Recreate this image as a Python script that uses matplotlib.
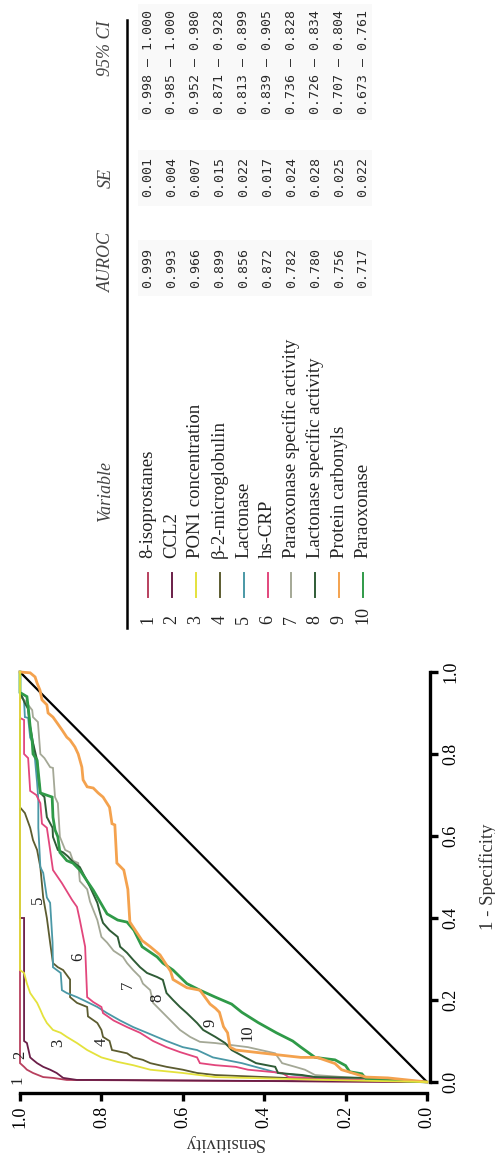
import matplotlib
matplotlib.use("Agg")
import matplotlib.pyplot as plt
from matplotlib.lines import Line2D
from matplotlib.patches import Rectangle

# ROC curves as (sensitivity, 1 - specificity) points, from (0, 0) to (1, 1)
roc_isoprostanes = [(0, 0), (0.885, 0.005), (0.919, 0.01), (0.943, 0.012), (0.968, 0.022),
                    (0.983, 0.03), (0.99, 0.037), (1.0, 0.046), (1.0, 1.0)]
roc_ccl2 = [(0, 0), (0.80, 0.005), (0.86, 0.005), (0.894, 0.01), (0.91, 0.022), (0.926, 0.03),
            (0.943, 0.037), (0.958, 0.046), (0.968, 0.054), (0.975, 0.06), (0.983, 0.095),
            (0.99, 0.10), (0.99, 0.40), (1.0, 0.40), (1.0, 1.0)]
roc_pon1 = [(0, 0), (0.25, 0.005), (0.52, 0.012), (0.60, 0.022), (0.68, 0.03), (0.722, 0.041),
            (0.76, 0.049), (0.80, 0.06), (0.835, 0.078), (0.86, 0.095), (0.885, 0.11), (0.90, 0.12),
            (0.919, 0.127), (0.934, 0.144), (0.943, 0.16), (0.95, 0.176), (0.958, 0.193),
            (0.968, 0.207), (0.975, 0.217), (0.983, 0.24), (0.99, 0.266), (1.0, 0.273), (1.0, 1.0)]
roc_b2m = [(0, 0), (0.30, 0.008), (0.52, 0.017), (0.565, 0.022), (0.60, 0.03), (0.64, 0.037),
           (0.68, 0.046), (0.698, 0.054), (0.722, 0.06), (0.737, 0.07), (0.774, 0.078), (0.78, 0.10),
           (0.796, 0.11), (0.80, 0.127), (0.81, 0.144), (0.833, 0.16), (0.835, 0.183), (0.86, 0.193),
           (0.877, 0.207), (0.877, 0.25), (0.894, 0.273), (0.907, 0.28), (0.919, 0.29), (0.926, 0.34),
           (0.934, 0.40), (0.943, 0.45), (0.95, 0.524), (0.958, 0.566), (0.968, 0.59), (0.975, 0.62),
           (0.988, 0.656), (1.0, 0.67), (1.0, 1.0)]
roc_lactonase = [(0, 0), (0.15, 0.005), (0.275, 0.012), (0.366, 0.022), (0.455, 0.046), (0.526, 0.06),
                 (0.565, 0.078), (0.60, 0.085), (0.64, 0.10), (0.688, 0.12), (0.722, 0.134), (0.754, 0.15),
                 (0.786, 0.168), (0.81, 0.183), (0.845, 0.20), (0.86, 0.207), (0.885, 0.217), (0.897, 0.224),
                 (0.90, 0.266), (0.919, 0.28), (0.92, 0.34), (0.926, 0.437), (0.934, 0.45), (0.943, 0.51),
                 (0.95, 0.524), (0.955, 0.62), (0.955, 0.688), (0.958, 0.73), (0.963, 0.785), (0.968, 0.827),
                 (0.975, 0.84), (0.98, 0.888), (0.988, 0.89), (0.99, 0.93), (1.0, 0.95), (1.0, 1.0)]
roc_hscrp = [(0, 0), (0.275, 0.01), (0.34, 0.012), (0.356, 0.022), (0.44, 0.03), (0.47, 0.037),
             (0.52, 0.041), (0.558, 0.046), (0.565, 0.06), (0.607, 0.073), (0.64, 0.085), (0.673, 0.10),
             (0.705, 0.12), (0.737, 0.134), (0.77, 0.15), (0.796, 0.168), (0.80, 0.183), (0.82, 0.195),
             (0.835, 0.207), (0.84, 0.33), (0.853, 0.395), (0.86, 0.427), (0.872, 0.444), (0.897, 0.485),
             (0.919, 0.517), (0.926, 0.566), (0.934, 0.62), (0.946, 0.63), (0.95, 0.68), (0.96, 0.70),
             (0.975, 0.71), (0.98, 0.79), (0.99, 0.80), (0.99, 0.883), (1.0, 0.888), (1.0, 1.0)]
roc_pon_specific = [(0, 0), (0.15, 0.008), (0.275, 0.017), (0.30, 0.03), (0.324, 0.037), (0.356, 0.046),
                    (0.373, 0.07), (0.44, 0.085), (0.52, 0.095), (0.558, 0.098), (0.582, 0.11),
                    (0.607, 0.127), (0.624, 0.144), (0.64, 0.16), (0.656, 0.176), (0.673, 0.193),
                    (0.68, 0.224), (0.698, 0.24), (0.705, 0.256), (0.722, 0.273), (0.737, 0.29),
                    (0.747, 0.305), (0.77, 0.32), (0.786, 0.34), (0.80, 0.354), (0.81, 0.395),
                    (0.828, 0.44), (0.835, 0.47), (0.853, 0.49), (0.857, 0.534), (0.87, 0.54),
                    (0.877, 0.56), (0.889, 0.566), (0.902, 0.598), (0.907, 0.68), (0.914, 0.695),
                    (0.919, 0.766), (0.926, 0.768), (0.94, 0.79), (0.95, 0.80), (0.956, 0.878),
                    (0.968, 0.89), (0.97, 0.907), (0.988, 0.93), (1.0, 0.94), (1.0, 1.0)]
roc_lac_specific = [(0, 0), (0.15, 0.01), (0.275, 0.012), (0.307, 0.017), (0.366, 0.022), (0.373, 0.037),
                    (0.42, 0.046), (0.447, 0.06), (0.48, 0.078), (0.496, 0.095), (0.52, 0.11), (0.55, 0.127),
                    (0.565, 0.144), (0.59, 0.168), (0.607, 0.183), (0.624, 0.20), (0.64, 0.217),
                    (0.649, 0.249), (0.663, 0.256), (0.688, 0.266), (0.705, 0.28), (0.722, 0.298),
                    (0.737, 0.315), (0.754, 0.33), (0.76, 0.354), (0.78, 0.37), (0.796, 0.388), (0.80, 0.40),
                    (0.81, 0.437), (0.828, 0.476), (0.853, 0.524), (0.87, 0.537), (0.882, 0.55),
                    (0.894, 0.56), (0.907, 0.566), (0.919, 0.598), (0.92, 0.62), (0.934, 0.646),
                    (0.94, 0.695), (0.95, 0.705), (0.955, 0.744), (0.958, 0.785), (0.968, 0.827),
                    (0.975, 0.866), (0.98, 0.91), (0.988, 0.924), (1.0, 0.95), (1.0, 1.0)]
roc_carbonyls = [(0, 0), (0.096, 0.01), (0.15, 0.012), (0.21, 0.03), (0.226, 0.045), (0.27, 0.06),
                 (0.31, 0.06), (0.40, 0.07), (0.47, 0.078), (0.484, 0.085), (0.49, 0.12), (0.50, 0.135),
                 (0.51, 0.17), (0.52, 0.18), (0.533, 0.19), (0.558, 0.224), (0.59, 0.23), (0.624, 0.25),
                 (0.63, 0.27), (0.656, 0.31), (0.68, 0.33), (0.70, 0.345), (0.71, 0.36), (0.73, 0.39),
                 (0.735, 0.47), (0.745, 0.517), (0.762, 0.534), (0.767, 0.627), (0.774, 0.63),
                 (0.78, 0.67), (0.796, 0.695), (0.808, 0.705), (0.82, 0.717), (0.835, 0.72),
                 (0.845, 0.737), (0.848, 0.768), (0.857, 0.80), (0.865, 0.817), (0.877, 0.834),
                 (0.885, 0.841), (0.897, 0.859), (0.909, 0.876), (0.919, 0.89), (0.931, 0.90),
                 (0.934, 0.92), (0.946, 0.932), (0.951, 0.956), (0.958, 0.973), (0.963, 0.988),
                 (0.975, 0.998), (1.0, 1.0)]
roc_paraoxonase = [(0, 0), (0.15, 0.008), (0.16, 0.02), (0.19, 0.025), (0.20, 0.04), (0.226, 0.054),
                   (0.275, 0.06), (0.31, 0.085), (0.33, 0.10), (0.37, 0.12), (0.415, 0.145), (0.455, 0.17),
                   (0.48, 0.19), (0.52, 0.207), (0.558, 0.224), (0.59, 0.24), (0.624, 0.273), (0.649, 0.29),
                   (0.663, 0.305), (0.70, 0.33), (0.72, 0.37), (0.737, 0.39), (0.76, 0.395), (0.786, 0.41),
                   (0.796, 0.427), (0.82, 0.468), (0.835, 0.49), (0.853, 0.517), (0.87, 0.534),
                   (0.885, 0.54), (0.902, 0.56), (0.907, 0.598), (0.914, 0.615), (0.919, 0.646),
                   (0.921, 0.695), (0.95, 0.705), (0.958, 0.785), (0.968, 0.80), (0.97, 0.83),
                   (0.975, 0.866), (0.98, 0.915), (0.983, 0.94), (1.0, 0.95), (1.0, 1.0)]

variables = ["8-isoprostanes", "CCL2", "PON1 concentration", "\u03b2-2-microglobulin", "Lactonase",
             "hs-CRP", "Paraoxonase specific activity", "Lactonase specific activity",
             "Protein carbonyls", "Paraoxonase"]
auroc = ["0.999", "0.993", "0.966", "0.899", "0.856", "0.872", "0.782", "0.780", "0.756", "0.717"]
se = ["0.001", "0.004", "0.007", "0.015", "0.022", "0.017", "0.024", "0.028", "0.025", "0.022"]
ci_low = ["0.998", "0.985", "0.952", "0.871", "0.813", "0.839", "0.736", "0.726", "0.707", "0.673"]
ci_high = ["1.000", "1.000", "0.980", "0.928", "0.899", "0.905", "0.828", "0.834", "0.804", "0.761"]
colors = ["#b8405e", "#6a1e48", "#e4e23c", "#5c5c30", "#4a98a6",
          "#e2467c", "#a4a896", "#2f5c36", "#f4a24e", "#2f9a48"]
curves = [roc_isoprostanes, roc_ccl2, roc_pon1, roc_b2m, roc_lactonase,
          roc_hscrp, roc_pon_specific, roc_lac_specific, roc_carbonyls, roc_paraoxonase]
# where the curve numbers sit, in (sensitivity, 1 - specificity)
label_pos = [(1.005, 0.005), (1.0, 0.066), (0.907, 0.095), (0.80, 0.098), (0.956, 0.444),
             (0.857, 0.305), (0.735, 0.237), (0.663, 0.205), (0.533, 0.144), (0.44, 0.12)]

W, H = 495, 1160
serif = ["Liberation Serif", "DejaVu Serif"]
plt.rcParams["font.family"] = serif

fig = plt.figure(figsize=(W / 100, H / 100), dpi=100)


def fx(px):
    return px / W


def fy(py):
    return 1 - py / H


# the ROC panel is laid on its side: sensitivity runs right-to-left along
# the bottom, 1 - specificity runs upward along the right-hand axis
ax = fig.add_axes([fx(20), fy(1082), fx(427) - fx(20), fy(672) - fy(1082)])
ax.set_xlim(1.0, 0.0)
ax.set_ylim(0.0, 1.0)

ax.plot([0, 1], [0, 1], color="black", lw=1.6, zorder=1)
widths = [1.3, 1.3, 1.3, 1.3, 1.3, 1.3, 1.3, 1.4, 2.0, 2.0]
# yellow and orange end up on top along the sensitivity = 1 edge
zorders = [2.0, 2.1, 3.0, 2.2, 2.3, 2.4, 2.5, 2.6, 2.9, 2.7]
for pts, col, lw, z in zip(curves, colors, widths, zorders):
    s = [p[0] for p in pts]
    f = [p[1] for p in pts]
    ax.plot(s, f, color=col, lw=lw, clip_on=False, solid_joinstyle="miter", zorder=z)

for i, (s, f) in enumerate(label_pos):
    ax.text(s, f, str(i + 1), rotation=90, ha="center", va="center", fontsize=12,
            color="#222222", zorder=4)

for side in ("left", "top"):
    ax.spines[side].set_visible(False)
ax.spines["bottom"].set_position(("outward", 8))
ax.spines["right"].set_position(("outward", 2))
for side in ("bottom", "right"):
    ax.spines[side].set_linewidth(2.4)
    ax.spines[side].set_bounds(0, 1)
ax.yaxis.tick_right()
ax.yaxis.set_label_position("right")
ticks = [0.0, 0.2, 0.4, 0.6, 0.8, 1.0]
ax.set_xticks(ticks)
ax.set_yticks(ticks)
ax.set_xticklabels([f"{t:.1f}" for t in ticks], rotation=90, fontsize=13)
ax.set_yticklabels([f"{t:.1f}" for t in ticks], rotation=90, va="center", fontsize=13)
ax.tick_params(axis="both", direction="out", length=6, width=2.4, pad=3, colors="black")
ax.set_xlabel("Sensitivity", rotation=180, fontsize=13.5, labelpad=4, color="#333333")
ax.set_ylabel("1 - Specificity", rotation=90, fontsize=13.5, labelpad=14, color="#333333")

# table of the curves, also on its side
mono = ["DejaVu Sans Mono"]
for py0, py1 in [(240, 296), (150, 206), (4, 120)]:
    fig.patches.append(Rectangle((fx(138), fy(py0)), fx(372) - fx(138), fy(py1) - fy(py0),
                                 transform=fig.transFigure, facecolor="#f9f9f9",
                                 edgecolor="none", zorder=0))

hdr = dict(rotation=90, fontsize=13, style="italic", color="#444444", ha="center")
fig.text(fx(106), fy(522), "Variable", va="bottom", **hdr)
fig.text(fx(106), fy(262), "AUROC", va="center", **hdr)
fig.text(fx(106), fy(178), "SE", va="center", **hdr)
fig.text(fx(106), fy(48), "95% CI", va="center", **hdr)
fig.lines.append(Line2D([fx(127), fx(127)], [fy(20), fy(628)], transform=fig.transFigure,
                        color="black", lw=1.8))

for i in range(len(variables)):
    x = 148 + 23.9 * i
    fig.text(fx(x), fy(624), str(i + 1), rotation=90, ha="center", va="bottom",
             fontsize=13, color="#222222")
    fig.lines.append(Line2D([fx(x), fx(x)], [fy(597), fy(573)], transform=fig.transFigure,
                            color=colors[i], lw=1.4))
    fig.text(fx(x), fy(558), variables[i], rotation=90, ha="center", va="bottom",
             fontsize=13.5, color="#222222")
    fig.text(fx(x), fy(268), auroc[i], rotation=90, ha="center", va="center",
             fontsize=9.5, family=mono, color="#2a2a2a")
    fig.text(fx(x), fy(177), se[i], rotation=90, ha="center", va="center",
             fontsize=9.5, family=mono, color="#2a2a2a")
    fig.text(fx(x), fy(62), f"{ci_low[i]} \u2013 {ci_high[i]}", rotation=90, ha="center",
             va="center", fontsize=9.5, family=mono, color="#2a2a2a")

fig.savefig("out.png", dpi=100, facecolor="white")
